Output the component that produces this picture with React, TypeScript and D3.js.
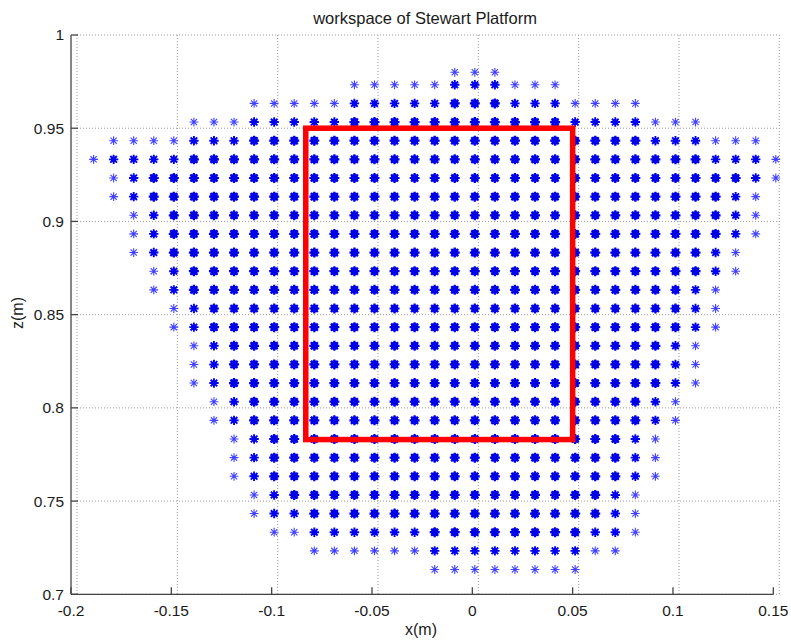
import React from 'react';
import * as d3 from 'd3';

// workspace rows: z height and the x extent of the sampled grid on that row
const rowZ = [
  0.7133, 0.7233, 0.7333, 0.7433, 0.7533, 0.7633, 0.7733, 0.7833, 0.7933, 0.8033,
  0.8133, 0.8233, 0.8333, 0.8433, 0.8533, 0.8633, 0.8733, 0.8833, 0.8933, 0.9033,
  0.9133, 0.9233, 0.9333, 0.9433, 0.9533, 0.9633, 0.9733, 0.98,
];
const rowXMin = [
  -0.02, -0.08, -0.1, -0.11, -0.11, -0.12, -0.12, -0.12, -0.13, -0.13,
  -0.14, -0.14, -0.14, -0.15, -0.15, -0.16, -0.16, -0.17, -0.17, -0.17,
  -0.18, -0.18, -0.19, -0.18, -0.14, -0.11, -0.06, -0.01,
];
const rowXMax = [
  0.05, 0.07, 0.08, 0.08, 0.08, 0.09, 0.09, 0.09, 0.1, 0.1,
  0.11, 0.11, 0.11, 0.12, 0.12, 0.12, 0.13, 0.13, 0.14, 0.14,
  0.14, 0.15, 0.15, 0.14, 0.11, 0.08, 0.04, 0.01,
];
const xStep = 0.01;

// red box drawn over the workspace
const boxX = [-0.083, 0.05];
const boxZ = [0.783, 0.95];

const xTicks = [-0.2, -0.15, -0.1, -0.05, 0, 0.05, 0.1, 0.15];
const xTickLabels = ['-0.2', '-0.15', '-0.1', '-0.05', '0', '0.05', '0.1', '0.15'];
const yTicks = [0.7, 0.75, 0.8, 0.85, 0.9, 0.95, 1];
const yTickLabels = ['0.7', '0.75', '0.8', '0.85', '0.9', '0.95', '1'];

const W = 791;
const H = 643;
const left = 71;
const right = 773.3;
const top = 35;
const bottom = 594.3;
const gridShift = 6; // vertical grid sits a little right of the ticks in the original
const markShift = 2.5;
const font = 'Liberation Sans, Arial, Helvetica, sans-serif';

const x = d3.scaleLinear().domain([-0.2, 0.15]).range([left, right]);
const y = d3.scaleLinear().domain([0.7, 1]).range([bottom, top]);

type Pt = { col: number; row: number; xv: number; zv: number };

const points: Pt[] = [];
rowZ.forEach((z, row) => {
  const c0 = Math.round(rowXMin[row] / xStep);
  const c1 = Math.round(rowXMax[row] / xStep);
  for (let c = c0; c <= c1; c++) {
    points.push({ col: c, row, xv: c * xStep, zv: z });
  }
});
const has = new Set(points.map(p => `${p.col},${p.row}`));
const level = (p: Pt) => {
  const miss = (d: number) =>
    !has.has(`${p.col - d},${p.row}`) || !has.has(`${p.col + d},${p.row}`) ||
    !has.has(`${p.col},${p.row - d}`) || !has.has(`${p.col},${p.row + d}`);
  if (miss(1)) return 0;
  if (miss(2)) return 1;
  return 2;
};

const star = (r: number) => {
  const d = r * Math.SQRT1_2;
  return `M${-r},0L${r},0M0,${-r}L0,${r}M${-d},${-d}L${d},${d}M${-d},${d}L${d},${-d}`;
};

const Marker = ({ p }: { p: Pt }) => {
  const lv = level(p);
  const cx = x(p.xv) + markShift;
  const cy = y(p.zv);
  if (lv === 0) {
    return <path d={star(4.4)} transform={`translate(${cx},${cy})`} stroke="#2020ff" strokeWidth={1.1} fill="none" opacity={0.85} />;
  }
  if (lv === 1) {
    return (
      <g transform={`translate(${cx},${cy})`}>
        <path d={star(4.7)} stroke="#0000ee" strokeWidth={1.9} fill="none" />
        <ellipse rx={2.4} ry={2.8} fill="#0000ee" />
      </g>
    );
  }
  return (
    <g transform={`translate(${cx},${cy})`}>
      <path d={star(5)} stroke="#0000e6" strokeWidth={2.2} fill="none" />
      <ellipse rx={3.7} ry={4.1} fill="#0000e6" />
    </g>
  );
};

export default function App() {
  return (
    <svg width={W} height={H} style={{ position: 'absolute', left: 0, top: 0, background: '#fff' }} fontFamily={font}>
      <rect width={W} height={H} fill="#fff" />
      {/* grid */}
      <g stroke="#9a9a9a" strokeWidth={1} strokeDasharray="1,2" fill="none">
        {xTicks.map(t => (
          <line key={`gx${t}`} x1={x(t) + gridShift} x2={x(t) + gridShift} y1={top} y2={bottom} />
        ))}
        {yTicks.map(t => (
          <line key={`gy${t}`} x1={left + gridShift} x2={right + gridShift} y1={y(t)} y2={y(t)} />
        ))}
      </g>
      {/* points */}
      <g>
        {points.map(p => <Marker key={`${p.col},${p.row}`} p={p} />)}
      </g>
      {/* red box */}
      <rect
        x={x(boxX[0])}
        y={y(boxZ[1])}
        width={x(boxX[1]) - x(boxX[0])}
        height={y(boxZ[0]) - y(boxZ[1])}
        fill="none"
        stroke="#ff0000"
        strokeWidth={5.5}
      />
      {/* axes */}
      <g stroke="#444" strokeWidth={1.3} fill="none">
        <line x1={left} x2={left} y1={top} y2={bottom} />
        <line x1={left} x2={right} y1={bottom} y2={bottom} />
        {xTicks.map(t => (
          <line key={`tx${t}`} x1={x(t)} x2={x(t)} y1={bottom} y2={bottom - 7} />
        ))}
        {yTicks.map(t => (
          <line key={`ty${t}`} x1={left} x2={left + 7} y1={y(t)} y2={y(t)} />
        ))}
      </g>
      <g fill="#1a1a1a" fontSize={15.5}>
        {xTicks.map((t, i) => (
          <text key={`lx${t}`} x={x(t)} y={616} textAnchor="middle">{xTickLabels[i]}</text>
        ))}
        {yTicks.map((t, i) => (
          <text key={`ly${t}`} x={64} y={y(t)} dy="0.35em" textAnchor="end">{yTickLabels[i]}</text>
        ))}
      </g>
      <text x={425} y={24} textAnchor="middle" fontSize={16.5} fill="#1a1a1a">workspace of Stewart Platform</text>
      <text x={421} y={635} textAnchor="middle" fontSize={16} fill="#1a1a1a">x(m)</text>
      <text transform="translate(23,313) rotate(-90)" textAnchor="middle" fontSize={16} fill="#1a1a1a">z(m)</text>
    </svg>
  );
}
